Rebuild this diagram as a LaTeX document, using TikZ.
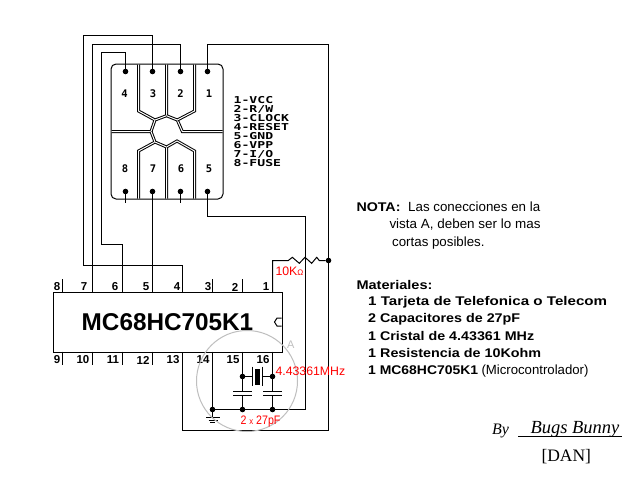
\documentclass[tikz,border=0pt]{standalone}
\usepackage{fontspec}
\usepackage{graphicx}
\setmainfont{Liberation Sans}
\newfontfamily\serifface{Liberation Serif}
\newfontfamily\pixface{DejaVu Sans Mono}
\newcommand\fitwidth[2]{\resizebox{#1pt}{\height}{#2}}
\begin{document}
\begin{tikzpicture}[x=1pt,y=-1pt,line width=1pt,line cap=butt,
  dot/.style={circle,fill=black,inner sep=0pt,outer sep=0pt,minimum size=5.6pt},
  gap/.style={double=white,double distance=1pt,line width=1pt},
  pinlabel/.style={font=\fontsize{11.5}{12}\selectfont\bfseries,inner sep=0pt},
  padlabel/.style={font=\fontsize{10.5}{10}\selectfont\pixface\bfseries,inner sep=0pt},
  redlabel/.style={text=red,inner sep=0pt,anchor=base west,font=\fontsize{12.3}{12}\selectfont},
  txt/.style={inner sep=0pt,anchor=base west,font=\fontsize{13.3}{12}\selectfont},
  mat/.style={inner sep=0pt,anchor=base west,font=\fontsize{12.6}{12}\selectfont\bfseries},
  chipbox/.style={draw,fill=white,inner sep=0pt,minimum width=229pt,minimum height=60pt,
     font=\fontsize{24.3}{24}\selectfont\bfseries}]
\useasboundingbox (0,0) rectangle (640,480);
\fill[white] (0,0) rectangle (640,480);
% card
\node[draw,rounded corners=5pt,minimum width=112pt,minimum height=135pt,inner sep=0pt] (card) at (167,131.5) {};
\draw[gap] (138.5,64.5) -- (138.5,111) -- (155,120) -- (151,131.5) -- (111.5,131.5);
\draw[gap] (166.5,64.5) -- (166.5,115.7) -- (155,120);
\draw[gap] (166.5,115.7) -- (177.3,120) -- (182.3,131.5) -- (222.5,131.5);
\draw[gap] (194.5,64.5) -- (194.5,111) -- (177.3,120);
\draw[gap] (151,131.5) -- (155,142) -- (138.5,151) -- (138.5,198.5);
\draw[gap] (155,142) -- (166.5,147) -- (166.5,198.5);
\draw[gap] (166.5,147) -- (177,141) -- (194.5,151) -- (194.5,198.5);
% contact dots
\node[dot] (c4) at (125.5,71.5) {};
\node[dot] (c3) at (152.5,71.5) {};
\node[dot] (c2) at (180.5,71.5) {};
\node[dot] (c1) at (207.5,71.5) {};
\node[dot] (c8) at (125.5,191.5) {};
\node[dot] (c7) at (152.5,191.5) {};
\node[dot] (c6) at (180.5,191.5) {};
\node[dot] (c5) at (207.5,191.5) {};
\foreach \n/\x/\y in {4/124.5/94,3/153/94,2/180.5/94,1/209/94,8/125/169,7/153/169,6/181/169,5/209/169}
  \node[padlabel] (pad\n) at (\x,\y) {\n};
\node[inner sep=0pt,anchor=north west,xscale=1.38,transform shape,align=left,
  font=\fontsize{9.5}{9}\selectfont\pixface\bfseries] (legend) at (233,96)
  {1-VCC\\2-R/W\\3-CLOCK\\4-RESET\\5-GND\\6-VPP\\7-I/O\\8-FUSE};
% chip
\node[chipbox] (chip) at (167.5,322) {MC68HC705K1};
\draw[fill=white] (281.5,318) -- (277,318) -- (274.5,322) -- (277,326) -- (281.5,326);
\foreach \n/\x in {8/62.5,7/92.5,6/122.5,5/152.5,4/182.5,3/212.5,2/242.5,1/272.5}{
  \coordinate (t\n) at (\x,292.5);
  \coordinate (ts\n) at (\x,279);}
\foreach \n/\x in {9/62.5,10/92.5,11/122.5,12/152.5,13/182.5,14/212.5,15/242.5,16/272.5}{
  \coordinate (b\n) at (\x,351.5);
  \coordinate (bs\n) at (\x,365);}
\foreach \n/\x in {8/57,7/84,6/115,5/146,4/177,3/208,2/235,1/266}
  \node[pinlabel] (tl\n) at (\x,287) {\n};
\foreach \n/\x in {9/57,10/83,11/113,12/143,13/173,14/203,15/233,16/263}
  \node[pinlabel] (bl\n) at (\x,360) {\n};
\foreach \n in {8,3,2} \draw (t\n) -- (ts\n);
\foreach \n in {9,10,11,12} \draw (b\n) -- (bs\n);
% junctions
\node[dot] (jn) at (328.5,260.5) {};
\node[dot] (gj) at (212.5,409.5) {};
\node[dot] (cj1) at (242.5,409.5) {};
\node[dot] (cj2) at (272.5,409.5) {};
\node[dot] (x1) at (242.5,376.5) {};
\node[dot] (x2) at (272.5,376.5) {};
% wires
\draw (c3) -- (152.5,35.5) -- (83.5,35.5) -- (83.5,265.5) -- (182.5,265.5) -- (t4);
\draw (c2) -- (180.5,44.5) -- (92.5,44.5) -- (t7);
\draw (c4) -- (125.5,52.5) -- (101.5,52.5) -- (101.5,244.5) -- (122.5,244.5) -- (t6);
\draw (c1) -- (207.5,44.5) -- (328.5,44.5) -- (jn) -- (328.5,430.5) -- (182.5,430.5) -- (b13);
\draw (c5) -- (207.5,216.5) -- (305.5,216.5) -- (305.5,409.5) -- (gj);
\draw (c7) -- (t5);
\coordinate (s8) at (125.5,203); \coordinate (s6) at (180.5,203);
\draw (c8) -- (s8);
\draw (c6) -- (s6);
\draw (t1) -- (272.5,260.5) -- (288.3,260.5) -- (292.3,257.3) -- (299.3,263.3) -- (305,257.3)
  -- (311.7,263.3) -- (316.7,257.3) -- (319.3,260.5) -- (jn);
\draw (b14) -- (gj);
\draw (b15) -- (x1);
\draw (b16) -- (x2);
% crystal
\node[fill=black,minimum width=5.5pt,minimum height=16pt,inner sep=0pt] (xtal) at (257.5,376.5) {};
\coordinate (xa) at (252.5,376.5); \coordinate (xb) at (262.5,376.5);
\draw (x1) -- (xa); \draw (xb) -- (x2);
\draw (252.5,366.7) -- (252.5,385.7);
\draw (262.5,366.7) -- (262.5,385.7);
% capacitors
\coordinate (ca1) at (242.5,391.5); \coordinate (ca2) at (242.5,395.5);
\coordinate (cb1) at (272.5,391.5); \coordinate (cb2) at (272.5,395.5);
\draw (233.3,391.5) -- (251.7,391.5); \draw (233.3,395.5) -- (251.7,395.5);
\draw (263,391.5) -- (281.7,391.5); \draw (263,395.5) -- (281.7,395.5);
\draw (x1) -- (ca1); \draw (ca2) -- (cj1);
\draw (x2) -- (cb1); \draw (cb2) -- (cj2);
\draw (gj) -- (cj1) -- (cj2);
% ground
\coordinate (gnd) at (212.5,417.5);
\draw (gj) -- (gnd);
\draw (206,417.5) -- (219.5,417.5);
\draw (208.5,420.5) -- (217.5,420.5);
\draw (210,422.5) -- (215,422.5);
% view circle
\node[draw=black!25,circle,minimum size=101pt,inner sep=0pt] (view) at (247,381) {};
\node[text=black!25,inner sep=0pt,font=\fontsize{11}{11}\selectfont] (vA) at (290.7,344.7) {A};
% red labels
\node[redlabel] (rl) at (275,275) {10K{\fontsize{8}{8}\selectfont Ω}};
\node[redlabel] (xl) at (275,375) {4.43361MHz};
\node[redlabel] (cl) at (240,424.5) {\fitwidth{40}{2 {\fontsize{9}{9}\selectfont x} 27pF}};
% notes
\node[mat] (nota) at (356,211) {\fitwidth{44}{NOTA:}};
\node[txt] (n1) at (407.7,211) {\fitwidth{132}{Las conecciones en la}};
\node[txt] (n2) at (389,228.3) {\fitwidth{151}{vista A, deben ser lo mas}};
\node[txt] (n3) at (391.7,246) {cortas posibles.};
\node[mat] (m0) at (356,289) {\fitwidth{76}{Materiales:}};
\node[mat] (m1) at (367.7,305.7) {\fitwidth{239}{1 Tarjeta de Telefonica o Telecom}};
\node[mat] (m2) at (367.7,322.8) {\fitwidth{152}{2 Capacitores de 27pF}};
\node[mat] (m3) at (367.7,340) {\fitwidth{166}{1 Cristal de 4.43361 MHz}};
\node[mat] (m4) at (367.7,357) {\fitwidth{173}{1 Resistencia de 10Kohm}};
\node[mat] (m5) at (367.7,374.5) {\fitwidth{110}{1 MC68HC705K1}};
\node[txt] (m6) at (481,374.5) {\fitwidth{107}{(Microcontrolador)}};
% signature
\node[inner sep=0pt,anchor=base west,font=\fontsize{16}{16}\selectfont\serifface\itshape] (by) at (491.7,434) {By};
\node[inner sep=0pt,anchor=base west,font=\fontsize{18.5}{16}\selectfont\serifface\itshape] (bb) at (530,433.5) {Bugs Bunny};
\draw (518,436.5) -- (622,436.5);
\node[inner sep=0pt,anchor=base west,font=\fontsize{17.5}{17}\selectfont\serifface] (dan) at (541,461.5) {[DAN]};
\end{tikzpicture}
\end{document}
